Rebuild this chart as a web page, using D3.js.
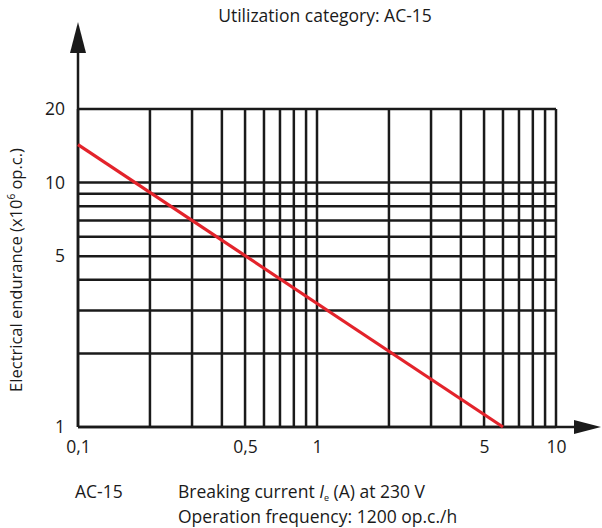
<!DOCTYPE html>
<html>
<head>
<meta charset="utf-8">
<script src="https://d3js.org/d3.v7.min.js"></script>
<style>
body { margin: 0; background: #fff; }
text { font-family: "Open Sans", sans-serif; fill: #1a1a1a; }
.grid line { stroke: #1a1a1a; stroke-width: 2.5; }
</style>
</head>
<body>
<script>

// values
var xTickValues = [0.1, 0.5, 1, 5, 10];
var xTickLabels = ["0,1", "0,5", "1", "5", "10"];
var yTickValues = [1, 5, 10, 20];
var yTickLabels = ["1", "5", "10", "20"];
var xGridValues = [0.1, 0.2, 0.3, 0.4, 0.5, 0.6, 0.7, 0.8, 0.9, 1, 2, 3, 4, 5, 6, 7, 8, 9, 10];
var yGridValues = [1, 2, 3, 4, 5, 6, 7, 8, 9, 10, 20];
var currentA = [0.1, 6];
var enduranceMio = [14.3, 1];

var width = 602, height = 528;
var margin = {top: 109, right: 46, bottom: 101, left: 78};

var svg = d3.select("body").append("svg")
    .attr("width", width)
    .attr("height", height);

var xScale = d3.scaleLog()
    .domain([0.1, 10])
    .range([margin.left, width - margin.right]);

var yScale = d3.scaleLog()
    .domain([1, 20])
    .range([height - margin.bottom, margin.top]);

var x0 = xScale.range()[0], x1 = xScale.range()[1];
var y0 = yScale.range()[0], y1 = yScale.range()[1];

var grid = svg.append("g").attr("class", "grid");

grid.selectAll(".v")
    .data(xGridValues)
  .enter().append("line")
    .attr("class", "v")
    .attr("x1", function(d) { return xScale(d); })
    .attr("x2", function(d) { return xScale(d); })
    .attr("y1", y0)
    .attr("y2", y1);

grid.selectAll(".h")
    .data(yGridValues)
  .enter().append("line")
    .attr("class", "h")
    .attr("x1", x0)
    .attr("x2", x1)
    .attr("y1", function(d) { return yScale(d); })
    .attr("y2", function(d) { return yScale(d); });

// axis lines with arrows
svg.append("line")
    .attr("x1", x0).attr("x2", x0)
    .attr("y1", y0).attr("y2", 50)
    .style("stroke", "#1a1a1a").style("stroke-width", 2.5);
svg.append("path")
    .attr("d", "M" + x0 + ",22L" + (x0 - 8) + ",53L" + (x0 + 8) + ",53Z")
    .style("fill", "#1a1a1a");

svg.append("line")
    .attr("x1", x0).attr("x2", 578)
    .attr("y1", y0).attr("y2", y0)
    .style("stroke", "#1a1a1a").style("stroke-width", 2.5);
svg.append("path")
    .attr("d", "M601," + y0 + "L574," + (y0 - 7) + "L574," + (y0 + 7) + "Z")
    .style("fill", "#1a1a1a");

// tick labels
var xAxis = d3.axisBottom(xScale)
    .tickValues(xTickValues)
    .tickFormat(function(d, i) { return xTickLabels[i]; })
    .tickSize(0)
    .tickPadding(14);

svg.append("g")
    .attr("class", "x axis")
    .attr("transform", "translate(0," + y0 + ")")
    .call(xAxis)
    .call(function(g) { g.select(".domain").remove(); });

var yAxis = d3.axisLeft(yScale)
    .tickValues(yTickValues)
    .tickFormat(function(d, i) { return yTickLabels[i]; })
    .tickSize(0)
    .tickPadding(13);

svg.append("g")
    .attr("class", "y axis")
    .attr("transform", "translate(" + x0 + ",0)")
    .call(yAxis)
    .call(function(g) { g.select(".domain").remove(); });

svg.selectAll(".tick text")
    .style("fill", "#1a1a1a")
    .style("font-family", "'Open Sans', sans-serif")
    .style("font-size", "17.5px");

// endurance line
var line = d3.line()
    .x(function(d) { return xScale(d[0]); })
    .y(function(d) { return yScale(d[1]); });

svg.append("path")
    .datum(d3.zip(currentA, enduranceMio))
    .attr("d", line)
    .style("fill", "none")
    .style("stroke", "#e3232b")
    .style("stroke-width", 3.2);

// texts
svg.append("text")
    .attr("x", 325)
    .attr("y", 22)
    .attr("text-anchor", "middle")
    .style("font-size", "17.5px")
    .text("Utilization category: AC-15");

var yTitle = svg.append("text")
    .attr("transform", "translate(22,270) rotate(-90)")
    .attr("text-anchor", "middle")
    .style("font-size", "16.5px");
yTitle.append("tspan").text("Electrical endurance (x10");
yTitle.append("tspan").attr("dy", -7).style("font-size", "10px").text("6");
yTitle.append("tspan").attr("dy", 7).text(" op.c.)");

svg.append("text")
    .attr("x", 75)
    .attr("y", 498)
    .style("font-size", "17.5px")
    .text("AC-15");

var bc = svg.append("text")
    .attr("x", 178)
    .attr("y", 498)
    .style("font-size", "17.5px");
bc.append("tspan").text("Breaking current ");
bc.append("tspan").style("font-style", "italic").text("I");
bc.append("tspan").attr("dy", 3).style("font-size", "9px").text("e");
bc.append("tspan").attr("dy", -3).text(" (A) at 230 V");

svg.append("text")
    .attr("x", 178)
    .attr("y", 523)
    .style("font-size", "17.5px")
    .text("Operation frequency: 1200 op.c./h");

</script>
</body>
</html>
